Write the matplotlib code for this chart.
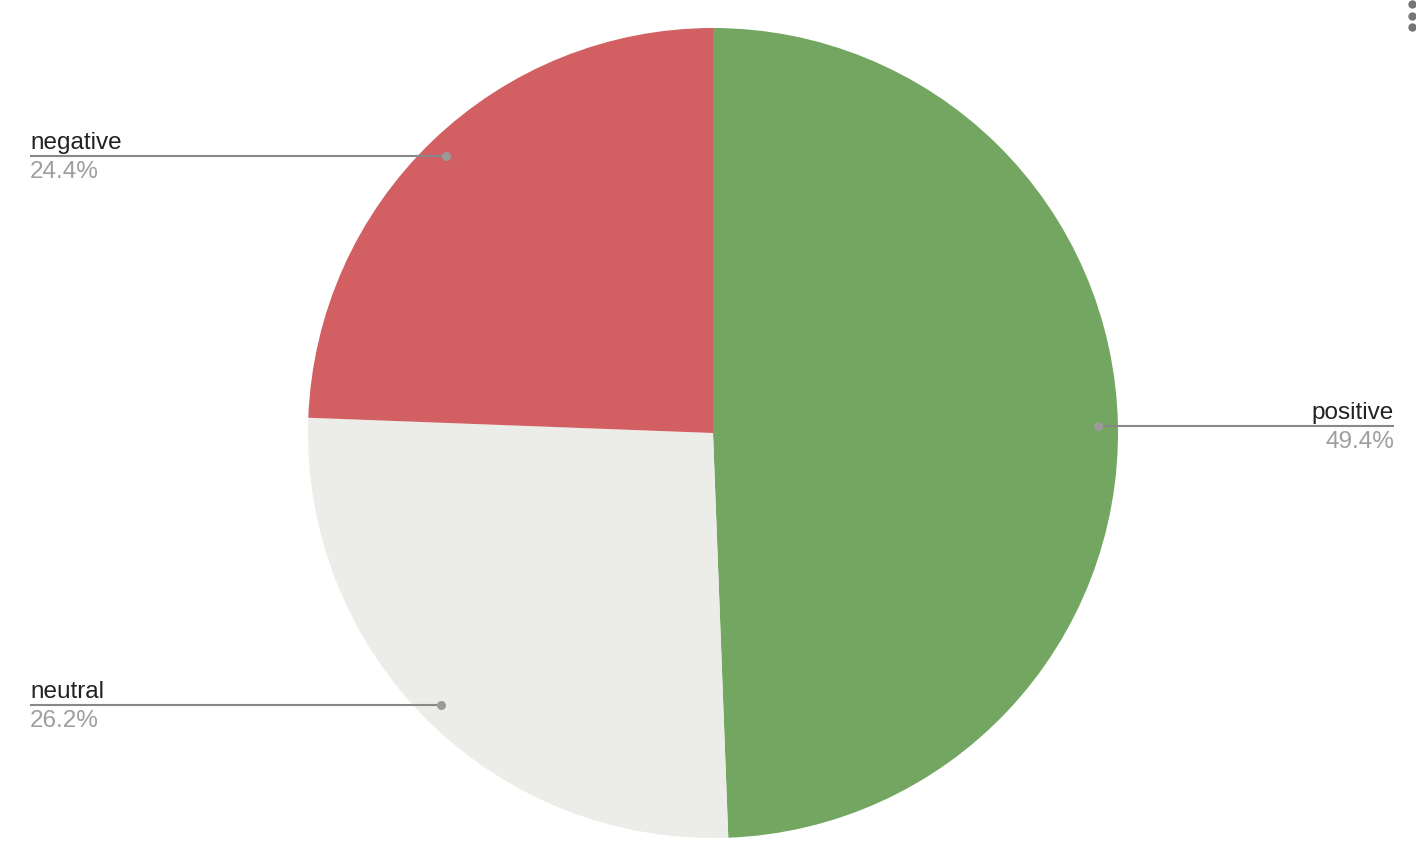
import matplotlib
matplotlib.use("Agg")
import matplotlib.pyplot as plt
import numpy as np

labels = ["positive", "neutral", "negative"]
values = [49.4, 26.2, 24.4]
colors = ["#73A660", "#ECEDE8", "#D26062"]

W, H = 1416, 858
fig = plt.figure(figsize=(W / 100, H / 100), dpi=100)
ax = fig.add_axes([0, 0, 1, 1])
ax.set_xlim(0, W)
ax.set_ylim(H, 0)
ax.set_aspect("equal")
ax.axis("off")

cx, cy, R = 713, 433, 405
# y-axis inverted: counterclock=True draws clockwise visually
wedges, _ = ax.pie(values, colors=colors, startangle=-90, counterclock=True,
                   center=(cx, cy), radius=R, frame=True,
                   wedgeprops=dict(linewidth=0))
ax.set_xlim(0, W)
ax.set_ylim(H, 0)
ax.axis("off")

font = "Liberation Sans"
total = sum(values)
cum = 0
for lab, v in zip(labels, values):
    mid = 90 - (cum + v / 2) / total * 360
    cum += v
    ang = np.deg2rad(mid)
    px = cx + 0.95 * R * np.cos(ang)
    py = cy - 0.95 * R * np.sin(ang)
    if np.cos(ang) >= 0:
        ex, ha = 1394, "right"
    else:
        ex, ha = 30, "left"
    ax.plot([px, ex], [py, py], color="#888888", lw=1.5, solid_capstyle="butt", zorder=3)
    ax.plot([px], [py], "o", color="#9A9A9A", ms=6.5, mec="none", zorder=4)
    ax.text(ex, py - 2, lab, ha=ha, va="bottom", fontsize=17.5, color="#222222", family=font)
    ax.text(ex, py + 5, f"{v:.1f}%", ha=ha, va="top", fontsize=17.5, color="#9E9E9E", family=font)

for yy in (3.5, 15.5, 27):
    ax.plot([1412], [yy], "o", color="#757575", ms=6, mec="none", clip_on=False)

fig.savefig("out.png", dpi=100)
